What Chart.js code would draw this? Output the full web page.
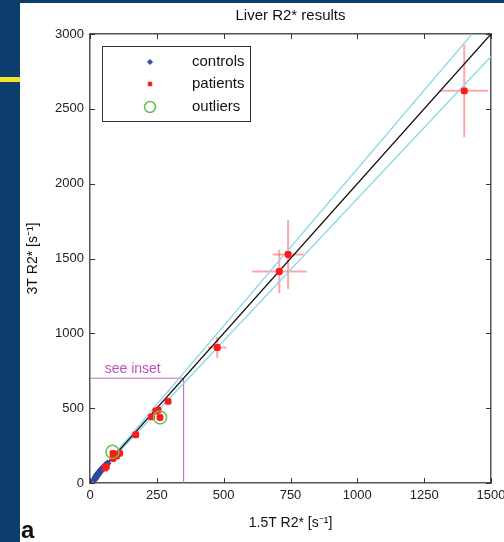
<!DOCTYPE html>
<html>
<head>
<meta charset="utf-8">
<script src="https://cdn.jsdelivr.net/npm/chart.js@4.4.1/dist/chart.umd.min.js"></script>
<style>
  html, body { margin: 0; padding: 0; background: #0b3e6e; }
  #wrap { position: relative; width: 504px; height: 542px; }
</style>
</head>
<body>
<div id="wrap"><canvas id="liverChart" width="504" height="542"></canvas></div>
<script>
// valores (1.5T vs 3T R2*)
const controlsX = [18, 20, 22, 24, 25, 27, 28, 30, 32, 33, 35, 37, 40, 42, 45, 48, 52, 55, 60, 65];
const controlsY = [25, 34, 40, 44, 48, 52, 58, 60, 64, 70, 72, 76, 82, 88, 92, 100, 106, 112, 122, 130];

const patientsX = [56, 61, 86, 86, 99, 111, 171, 230, 246, 255, 262, 292, 476, 708, 741, 1400];
const patientsY = [100, 109, 164, 198, 180, 198, 322, 442, 480, 487, 438, 545, 905, 1413, 1527, 2620];
const patientsXErr = [0, 0, 0, 0, 0, 0, 0, 0, 0, 0, 0, 8, 34, 103, 58, 90];
const patientsYErr = [0, 0, 0, 0, 0, 0, 0, 0, 0, 0, 0, 15, 70, 145, 230, 310];

const outliersX = [84, 262];
const outliersY = [208, 438];

const identityLine = [[0, 0], [1500, 3000]];
const upperLimit = [[0, 0], [1429, 3000]];
const lowerLimit = [[0, 0], [1500, 2850]];
const insetBox = [[0, 700], [350, 700], [350, 0]];

const xTicks = [0, 250, 500, 750, 1000, 1250, 1500];
const yTicks = [0, 500, 1000, 1500, 2000, 2500, 3000];

const toPoints = (xs, ys) => xs.map((x, i) => ({ x: x, y: ys[i] }));
const pairs = arr => arr.map(p => ({ x: p[0], y: p[1] }));

Chart.defaults.font.family = "'Liberation Sans', Arial, sans-serif";
Chart.defaults.color = '#222';

// fundo do slide (azul + faixa amarela)
const slideBackground = {
    id: 'slideBackground',
    beforeDraw(chart) {
        const ctx = chart.ctx;
        ctx.save();
        ctx.fillStyle = '#0b3e6e';
        ctx.fillRect(0, 0, chart.width, chart.height);
        ctx.fillStyle = '#ffffff';
        ctx.fillRect(20, 3, chart.width - 20, chart.height - 3);
        ctx.fillStyle = '#f3e22b';
        ctx.fillRect(0, 77, 20, 5);
        ctx.restore();
    }
};

// barras de erro dos pacientes
const errorBars = {
    id: 'errorBars',
    beforeDatasetsDraw(chart) {
        const ctx = chart.ctx;
        const xs = chart.scales.x, ys = chart.scales.y;
        ctx.save();
        ctx.strokeStyle = 'rgba(255, 60, 60, 0.45)';
        ctx.lineWidth = 2;
        patientsX.forEach((x, i) => {
            const y = patientsY[i];
            if (!patientsXErr[i] && !patientsYErr[i]) return;
            ctx.beginPath();
            ctx.moveTo(xs.getPixelForValue(x - patientsXErr[i]), ys.getPixelForValue(y));
            ctx.lineTo(xs.getPixelForValue(x + patientsXErr[i]), ys.getPixelForValue(y));
            ctx.moveTo(xs.getPixelForValue(x), ys.getPixelForValue(y - patientsYErr[i]));
            ctx.lineTo(xs.getPixelForValue(x), ys.getPixelForValue(y + patientsYErr[i]));
            ctx.stroke();
        });
        ctx.restore();
    }
};

// marcas dos ticks para dentro (estilo MATLAB), nos quatro lados
const innerTicks = {
    id: 'innerTicks',
    afterDatasetsDraw(chart) {
        const ctx = chart.ctx;
        const a = chart.chartArea;
        const xs = chart.scales.x, ys = chart.scales.y;
        ctx.save();
        ctx.strokeStyle = '#333';
        ctx.lineWidth = 1;
        ctx.beginPath();
        xTicks.forEach(v => {
            const px = Math.round(xs.getPixelForValue(v)) + 0.5;
            ctx.moveTo(px, a.bottom); ctx.lineTo(px, a.bottom - 5);
            ctx.moveTo(px, a.top); ctx.lineTo(px, a.top + 5);
        });
        yTicks.forEach(v => {
            const py = Math.round(ys.getPixelForValue(v)) + 0.5;
            ctx.moveTo(a.left, py); ctx.lineTo(a.left + 5, py);
            ctx.moveTo(a.right, py); ctx.lineTo(a.right - 5, py);
        });
        ctx.stroke();
        ctx.restore();
    }
};

// legenda dentro da área, texto "see inset" e letra "a"
const annotations = {
    id: 'annotations',
    afterDraw(chart) {
        const ctx = chart.ctx;
        const xs = chart.scales.x, ys = chart.scales.y;
        ctx.save();
        ctx.font = "14px 'Liberation Sans', Arial, sans-serif";
        ctx.fillStyle = '#c04fc0';
        ctx.textBaseline = 'bottom';
        ctx.textAlign = 'left';
        ctx.fillText('see inset', xs.getPixelForValue(55), ys.getPixelForValue(700) - 2);

        // caixa da legenda
        ctx.fillStyle = '#ffffff';
        ctx.fillRect(102, 46, 148, 75);
        ctx.strokeStyle = '#333';
        ctx.lineWidth = 1;
        ctx.strokeRect(102.5, 46.5, 148, 75);

        const rows = [
            { label: 'controls', y: 62, style: 'rectRot', r: 2.5, fill: '#2c4ca8', stroke: '#2c4ca8' },
            { label: 'patients', y: 84, style: 'rect', r: 2.5, fill: '#ff1a1a', stroke: '#ff1a1a' },
            { label: 'outliers', y: 107, style: 'circle', r: 5.5, fill: 'rgba(0,0,0,0)', stroke: '#66c050' }
        ];
        ctx.font = "15px 'Liberation Sans', Arial, sans-serif";
        rows.forEach(row => {
            ctx.fillStyle = row.fill;
            ctx.strokeStyle = row.stroke;
            ctx.lineWidth = row.style === 'circle' ? 1.5 : 1;
            Chart.helpers.drawPoint(ctx, { pointStyle: row.style, radius: row.r, borderWidth: ctx.lineWidth, rotation: 0 }, 150, row.y);
            ctx.fillStyle = '#111';
            ctx.textBaseline = 'middle';
            ctx.fillText(row.label, 192, row.y);
        });

        ctx.font = "bold 24px 'Liberation Sans', Arial, sans-serif";
        ctx.fillStyle = '#111';
        ctx.textBaseline = 'alphabetic';
        ctx.fillText('a', 21, 538);
        ctx.restore();
    }
};

const axisGrid = { drawOnChartArea: false, drawTicks: false, color: '#444' };
const axisBorder = { display: true, color: '#555', width: 1.5 };
const plainLabel = v => String(v);

const ctx = document.getElementById('liverChart').getContext('2d');
new Chart(ctx, {
    type: 'scatter',
    data: {
        datasets: [
            {
                label: 'outliers',
                data: toPoints(outliersX, outliersY),
                pointStyle: 'circle',
                pointRadius: 6.5,
                backgroundColor: 'rgba(0,0,0,0)',
                borderColor: '#66c050',
                borderWidth: 1.5,
                order: 1
            },
            {
                label: 'patients',
                data: toPoints(patientsX, patientsY),
                pointStyle: 'rectRounded',
                pointRadius: 4,
                backgroundColor: '#ff1a1a',
                borderColor: '#ff1a1a',
                borderWidth: 0,
                order: 2
            },
            {
                label: 'controls',
                data: toPoints(controlsX, controlsY),
                pointStyle: 'rectRot',
                pointRadius: 4,
                backgroundColor: '#2a48a6',
                borderColor: '#2a48a6',
                borderWidth: 0,
                order: 3
            },
            {
                label: 'identity',
                data: pairs(identityLine),
                showLine: true,
                pointRadius: 0,
                borderColor: '#111',
                borderWidth: 1.3,
                order: 4
            },
            {
                label: 'upper',
                data: pairs(upperLimit),
                showLine: true,
                pointRadius: 0,
                borderColor: '#8dd6ea',
                borderWidth: 1.3,
                order: 5
            },
            {
                label: 'lower',
                data: pairs(lowerLimit),
                showLine: true,
                pointRadius: 0,
                borderColor: '#8dd6ea',
                borderWidth: 1.3,
                order: 5
            },
            {
                label: 'inset',
                data: pairs(insetBox),
                showLine: true,
                pointRadius: 0,
                borderColor: '#c76ec7',
                borderWidth: 1,
                order: 6
            }
        ]
    },
    options: {
        responsive: false,
        animation: false,
        layout: {
            padding: { left: 20, right: 13, top: 5, bottom: 4 }
        },
        scales: {
            x: {
                type: 'linear',
                position: 'bottom',
                min: 0,
                max: 1500,
                afterBuildTicks: scale => { scale.ticks = xTicks.map(v => ({ value: v })); },
                afterFit: scale => { scale.height = 55; scale.paddingLeft = 0; scale.paddingRight = 0; },
                ticks: { padding: 5, font: { size: 13 }, maxRotation: 0, callback: plainLabel },
                grid: axisGrid,
                border: axisBorder,
                title: {
                    display: true,
                    text: '1.5T R2* [s\u207B\u00B9]',
                    font: { size: 14 },
                    color: '#111',
                    padding: { top: 0, bottom: 6 }
                }
            },
            y: {
                type: 'linear',
                position: 'left',
                min: 0,
                max: 3000,
                afterBuildTicks: scale => { scale.ticks = yTicks.map(v => ({ value: v })); },
                afterFit: scale => { scale.width = 70; scale.paddingTop = 0; scale.paddingBottom = 0; },
                ticks: { padding: 6, font: { size: 13 }, callback: plainLabel },
                grid: axisGrid,
                border: axisBorder,
                title: {
                    display: true,
                    text: '3T R2* [s\u207B\u00B9]',
                    font: { size: 14 },
                    color: '#111',
                    padding: { top: 5, bottom: 0 }
                }
            },
            x2: {
                type: 'linear',
                position: 'top',
                min: 0,
                max: 1500,
                afterFit: scale => { scale.height = 0; scale.paddingLeft = 0; scale.paddingRight = 0; },
                ticks: { display: false },
                grid: axisGrid,
                border: axisBorder
            },
            y2: {
                type: 'linear',
                position: 'right',
                min: 0,
                max: 3000,
                afterFit: scale => { scale.width = 0; scale.paddingTop = 0; scale.paddingBottom = 0; },
                ticks: { display: false },
                grid: axisGrid,
                border: axisBorder
            }
        },
        plugins: {
            legend: { display: false },
            tooltip: { enabled: false },
            title: {
                display: true,
                fullSize: false,
                text: 'Liver R2* results',
                font: { size: 15, weight: 'normal' },
                color: '#111',
                padding: { top: 2, bottom: 9 }
            }
        }
    },
    plugins: [slideBackground, errorBars, innerTicks, annotations]
});
</script>
</body>
</html>
